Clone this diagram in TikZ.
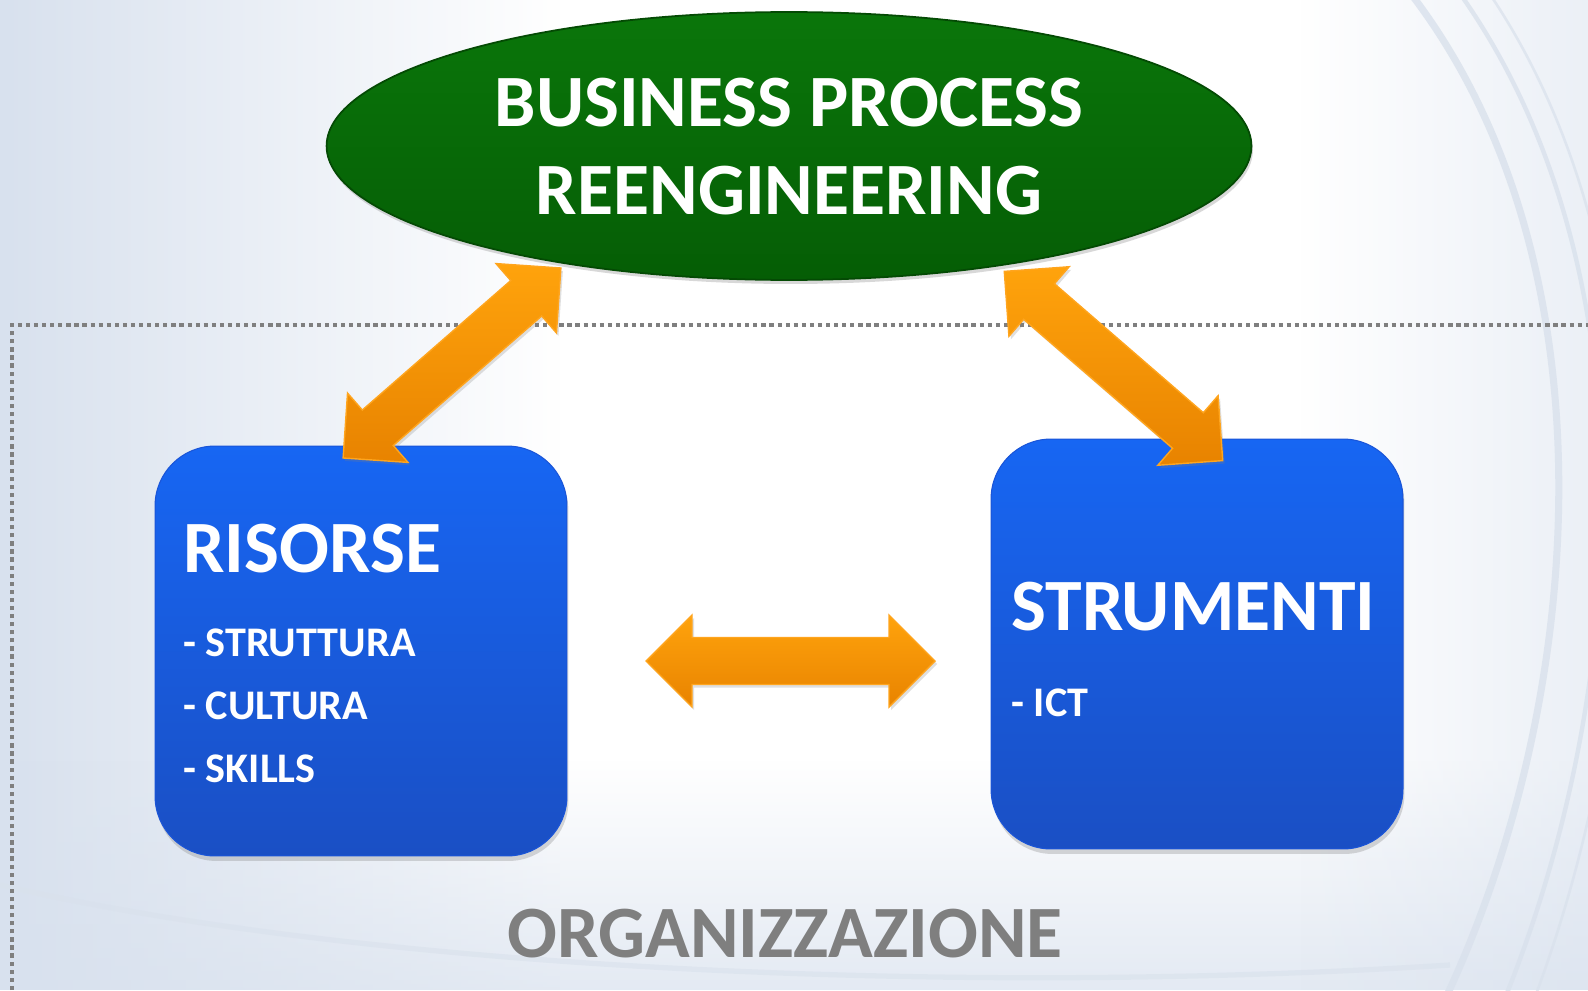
\documentclass[tikz,border=0pt]{standalone}
\usepackage{fontspec}
\setmainfont{Carlito}
\usetikzlibrary{shapes.geometric,shadows,calc,fadings}
\definecolor{bgedge}{HTML}{D8E1EE}
\definecolor{swirl}{HTML}{D9E1EC}
\definecolor{greenT}{HTML}{0A760A}
\definecolor{greenB}{HTML}{055D05}
\definecolor{greenD}{HTML}{044A04}
\definecolor{blueT}{HTML}{1766F3}
\definecolor{blueB}{HTML}{1A4FC4}
\definecolor{blueD}{HTML}{1A55D8}
\definecolor{orT}{HTML}{FFA30C}
\definecolor{orB}{HTML}{E88300}
\definecolor{orD}{HTML}{FFA51E}
\definecolor{dotgray}{HTML}{7F7F7F}
\definecolor{orggray}{HTML}{7F7F7F}
\newcommand\blockarrowpath{(-144.5,0) -- (-98.5,-46) -- (-98.5,-23.5) -- (98.5,-23.5) -- (98.5,-46) -- (144.5,0) -- (98.5,46) -- (98.5,23.5) -- (-98.5,23.5) -- (-98.5,46) -- cycle}
\tikzset{
  boxstyle/.style={rectangle, rounded corners=1.2cm, minimum width=8.24cm, minimum height=8.2cm,
    top color=blueT, bottom color=blueB, draw=blueD, line width=0.6pt,
    drop shadow={shadow xshift=0.03cm, shadow yshift=-0.1cm, opacity=0.3}},
  titletext/.style={text=white, font=\bfseries\fontsize{42}{47}\selectfont, inner sep=0pt},
  headtext/.style={text=white, font=\bfseries\fontsize{42}{48}\selectfont, inner sep=0pt, anchor=base west},
  itemtext/.style={text=white, font=\bfseries\fontsize{24}{28}\selectfont, inner sep=0pt, anchor=base west},
  arrowfill/.style={top color=orT, bottom color=orB, draw=orD, line width=0.8pt, line join=miter,
    drop shadow={shadow xshift=0.04cm, shadow yshift=-0.06cm, opacity=0.25}},
  dotline/.style={draw=dotgray, line width=2.6pt, dash pattern=on 2.4pt off 2.2pt}
}
\begin{document}
\begin{tikzpicture}[x=0.02cm, y=-0.02cm]
% background
\useasboundingbox (0,0) rectangle (1588,990);
\fill[white] (0,0) rectangle (1588,990);
\begin{scope}
\clip (0,0) rectangle (1588,990);
\fill[bgedge, path fading=east] (0,0) rectangle (560,990);
\fill[bgedge, path fading=north, opacity=0.7] (0,760) rectangle (1588,990);
\fill[bgedge, path fading=west, opacity=0.5] (1300,0) rectangle (1588,990);
\draw[swirl, line width=4pt, opacity=0.8] (1400,-20) .. controls (1620,250) and (1590,700) .. (1440,1010);
\draw[swirl, line width=2.5pt, opacity=0.8] (1450,-20) .. controls (1660,260) and (1630,700) .. (1500,1010);
\draw[swirl, line width=1.5pt, opacity=0.7] (1480,-20) .. controls (1680,260) and (1650,700) .. (1530,1010);
\draw[swirl, line width=3pt, opacity=0.6] (-20,880) .. controls (300,960) and (900,1000) .. (1450,965);
\end{scope}
% dotted frame
\coordinate (fr1) at (12,325);
\coordinate (fr2) at (1588,325);
\coordinate (fr3) at (12,990);
\draw[dotline] (fr3) -- (fr1) -- (fr2);
% top ellipse
\node[ellipse, minimum width=18.5cm, minimum height=5.36cm, inner sep=0pt,
  top color=greenT, bottom color=greenB, draw=greenD, line width=1pt,
  drop shadow={shadow xshift=0.03cm, shadow yshift=-0.08cm, opacity=0.3}] (bpr) at (789,146) {};
\node[titletext, anchor=base] (t1) at (789,127) {BUSINESS PROCESS};
\node[titletext, anchor=base] (t2) at (789,214) {REENGINEERING};
% boxes
\node[boxstyle] (ris) at (361,651) {};
\node[boxstyle] (str) at (1197,644) {};
\node[headtext] (risH) at (183,572) {RISORSE};
\node[itemtext] (ri1) at (183,656) {- STRUTTURA};
\node[itemtext] (ri2) at (183,719) {- CULTURA};
\node[itemtext] (ri3) at (183,782) {- SKILLS};
\node[headtext] (strH) at (1011,630) {STRUMENTI};
\node[itemtext] (st1) at (1011,716) {- ICT};
% arrows
\coordinate (a1) at (343,458);
\coordinate (b1) at (561,268);
\coordinate (a2) at (1005,272);
\coordinate (b2) at (1222,460);
\coordinate (a3) at (646,661);
\coordinate (b3) at (935,661);
\begin{scope}[shift={($(a1)!0.5!(b1)$)}, rotate=41.1]
\path[arrowfill] \blockarrowpath;
\end{scope}
\begin{scope}[shift={($(a2)!0.5!(b2)$)}, rotate=-40.9]
\path[arrowfill] \blockarrowpath;
\end{scope}
\begin{scope}[shift={($(a3)!0.5!(b3)$)}]
\path[arrowfill] \blockarrowpath;
\end{scope}
% bottom label
\node[text=orggray, font=\bfseries\fontsize{42}{47}\selectfont, inner sep=0pt, anchor=base] (org) at (785,957) {ORGANIZZAZIONE};
\end{tikzpicture}
\end{document}
